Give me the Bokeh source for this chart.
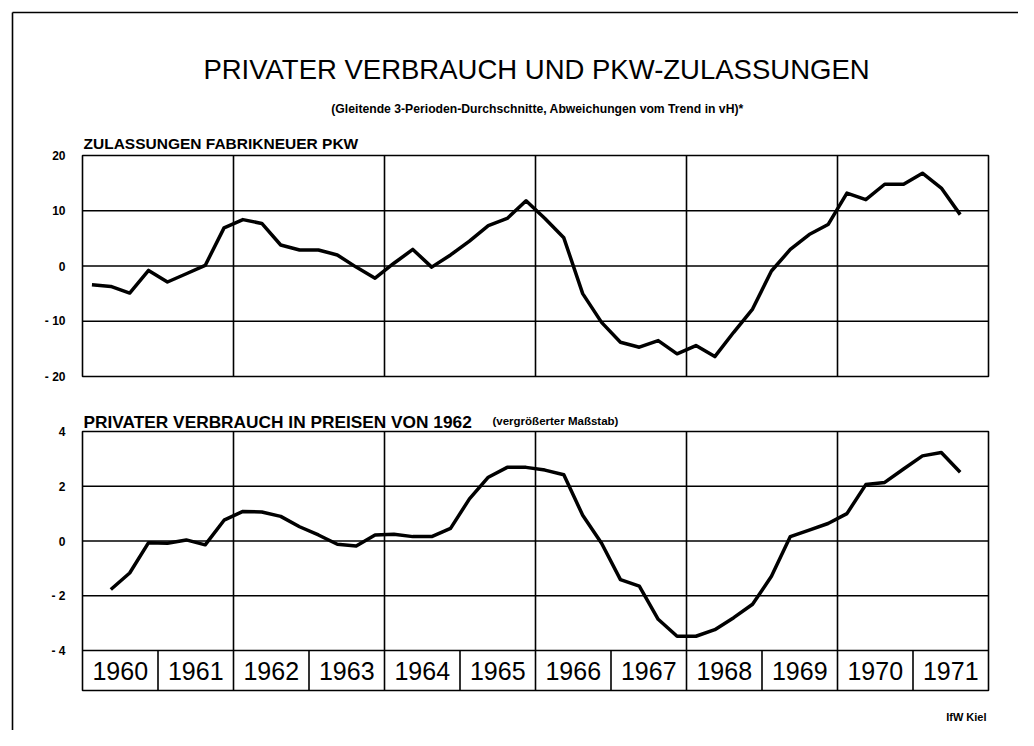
from bokeh.plotting import figure
from bokeh.models import Range1d
from bokeh.core.properties import value
from bokeh.embed import file_html
from bokeh.resources import INLINE

# ---------------- data ----------------
years = [1960, 1961, 1962, 1963, 1964, 1965, 1966, 1967, 1968, 1969, 1970, 1971]
year_labels = [str(y) for y in years]
grid_years = [1962, 1964, 1966, 1968, 1970]

# quarterly periods: PKW series 1960Q1..1971Q3, consumption 1960Q2..1971Q3
pkw_periods = [(y, q) for y in years for q in (1, 2, 3, 4)][:47]
verbrauch_periods = pkw_periods[1:]

pkw = [-3.4, -3.7, -4.9, -0.8, -2.9, -1.4, 0.1, 6.9, 8.4, 7.7,
       3.8, 2.9, 2.9, 2.0, -0.2, -2.2, 0.5, 3.0, -0.2, 2.0,
       4.5, 7.3, 8.6, 11.8, 8.6, 5.1, -5.0, -10.2, -13.8, -14.7,
       -13.5, -15.9, -14.4, -16.4, -12.0, -7.8, -0.9, 3.0, 5.7, 7.5,
       13.2, 12.0, 14.8, 14.8, 16.8, 14.1, 9.3]

verbrauch = [-1.77, -1.17, -0.06, -0.08, 0.04, -0.14, 0.76, 1.08, 1.06, 0.90,
             0.52, 0.22, -0.12, -0.18, 0.22, 0.25, 0.16, 0.16, 0.46, 1.54,
             2.33, 2.69, 2.69, 2.59, 2.42, 0.94, -0.08, -1.41, -1.65, -2.86,
             -3.48, -3.48, -3.24, -2.80, -2.31, -1.29, 0.16, 0.40, 0.64, 1.00,
             2.06, 2.14, 2.63, 3.11, 3.23, 2.51]

top_ticks = [20, 10, 0, -10, -20]
top_tick_labels = ["20", "10", "0", "- 10", "- 20"]
top_grid = [10, 0, -10]
bot_ticks = [4, 2, 0, -2, -4]
bot_tick_labels = ["4", "2", "0", "- 2", "- 4"]
bot_grid = [2, 0, -2, -4]

title = "PRIVATER VERBRAUCH UND PKW-ZULASSUNGEN"
subtitle = "(Gleitende 3-Perioden-Durchschnitte, Abweichungen vom Trend in vH)*"
top_label = "ZULASSUNGEN FABRIKNEUER PKW"
bot_label = "PRIVATER VERBRAUCH IN PREISEN VON 1962"
bot_label2 = "(vergrößerter Maßstab)"
source_label = "IfW Kiel"

# ---------------- layout ----------------
W, H = 1018, 730
CX0, PPX = 82, 75.5          # canvas x of 1960, pixels per year
CY_T20, PPT = 155, 5.525     # canvas y of +20 (top panel), px per unit
CY_B4, PPB = 431, 27.375     # canvas y of +4 (bottom panel), px per unit


def xs(px):   # canvas x -> year coordinate
    return 1960 + (px - CX0) / PPX


def yt(py):   # canvas y -> top-panel value
    return 20 - (py - CY_T20) / PPT


def yb(py):   # canvas y -> bottom-panel value
    return 4 - (py - CY_B4) / PPB


x_range = Range1d(1960 - CX0 / PPX, 1960 + (W - CX0) / PPX)
y_range = Range1d(20 - (H - CY_T20) / PPT, 20 + CY_T20 / PPT)

p = figure(width=W, height=H, x_range=x_range, y_range=y_range,
           x_axis_type=None, y_axis_type=None,
           output_backend="svg", toolbar_location=None,
           min_border=0, outline_line_color=None,
           background_fill_color="white", border_fill_color="white")
p.extra_y_ranges = {"b": Range1d(4 - (H - CY_B4) / PPB, 4 + CY_B4 / PPB)}

LW = 1.6
FONT = value("Liberation Sans")
YEAR_BOTTOM = yb(690)

# page frame (left and top)
p.segment(x0=[xs(12), xs(12)], y0=[yt(12), yt(12)],
          x1=[xs(12), xs(1040)], y1=[yt(760), yt(12)],
          line_color="black", line_width=1.6)

# ---------- top panel ----------
p.quad(left=[years[0]], right=[years[-1] + 1], top=[top_ticks[0]], bottom=[top_ticks[-1]],
       fill_color=None, line_color="black", line_width=LW)
p.segment(x0=[years[0]] * len(top_grid), x1=[years[-1] + 1] * len(top_grid),
          y0=top_grid, y1=top_grid, line_color="black", line_width=LW)
p.segment(x0=grid_years, x1=grid_years, y0=[top_ticks[0]] * len(grid_years),
          y1=[top_ticks[-1]] * len(grid_years), line_color="black", line_width=LW)
px_top = [y + (q - 0.5) / 4 for (y, q) in pkw_periods]
p.line(px_top, pkw, line_color="black", line_width=3.5, line_join="round")
p.text(x=[xs(65)] * len(top_ticks), y=top_ticks, text=top_tick_labels,
       text_font=FONT, text_font_style="bold", text_font_size="12px",
       text_align="right", text_baseline="middle", text_color="black")

# ---------- bottom panel ----------
p.quad(left=[years[0]], right=[years[-1] + 1], top=[bot_ticks[0]], bottom=[YEAR_BOTTOM],
       fill_color=None, line_color="black", line_width=LW, y_range_name="b")
p.segment(x0=[years[0]] * len(bot_grid), x1=[years[-1] + 1] * len(bot_grid),
          y0=bot_grid, y1=bot_grid, line_color="black", line_width=LW, y_range_name="b")
p.segment(x0=grid_years, x1=grid_years, y0=[bot_ticks[0]] * len(grid_years),
          y1=[bot_ticks[-1]] * len(grid_years), line_color="black", line_width=LW,
          y_range_name="b")
sep = years[1:]
p.segment(x0=sep, x1=sep, y0=[bot_ticks[-1]] * len(sep), y1=[YEAR_BOTTOM] * len(sep),
          line_color="black", line_width=LW, y_range_name="b")
px_bot = [y + (q - 0.5) / 4 for (y, q) in verbrauch_periods]
p.line(px_bot, verbrauch, line_color="black", line_width=3.5, line_join="round",
       y_range_name="b")
p.text(x=[xs(65)] * len(bot_ticks), y=bot_ticks, text=bot_tick_labels,
       text_font=FONT, text_font_style="bold", text_font_size="12px",
       text_align="right", text_baseline="middle", text_color="black", y_range_name="b")
p.text(x=[y + 0.5 for y in years], y=[(bot_ticks[-1] + YEAR_BOTTOM) / 2] * len(years),
       text=year_labels, text_font=FONT, text_font_size="25px",
       text_align="center", text_baseline="middle", text_color="black", y_range_name="b")

# ---------- texts ----------
p.text(x=[xs(536)], y=[yt(69)], text=[title], text_font=FONT, text_font_size="27.5px",
       text_align="center", text_baseline="middle", text_color="black")
p.text(x=[xs(537)], y=[yt(108)], text=[subtitle], text_font=FONT, text_font_style="bold",
       text_font_size="12.2px", text_align="center", text_baseline="middle", text_color="black")
p.text(x=[xs(83)], y=[yt(143)], text=[top_label], text_font=FONT, text_font_style="bold",
       text_font_size="15.5px", text_align="left", text_baseline="middle", text_color="black")
p.text(x=[xs(83)], y=[yb(421)], text=[bot_label], text_font=FONT, text_font_style="bold",
       text_font_size="17.3px", text_align="left", text_baseline="middle", text_color="black",
       y_range_name="b")
p.text(x=[xs(492)], y=[yb(420)], text=[bot_label2], text_font=FONT, text_font_style="bold",
       text_font_size="11.5px", text_align="left", text_baseline="middle", text_color="black",
       y_range_name="b")
p.text(x=[xs(986)], y=[yb(716)], text=[source_label], text_font=FONT, text_font_style="bold",
       text_font_size="11px", text_align="right", text_baseline="middle", text_color="black",
       y_range_name="b")

open("out.html", "w").write(file_html(p, INLINE))
